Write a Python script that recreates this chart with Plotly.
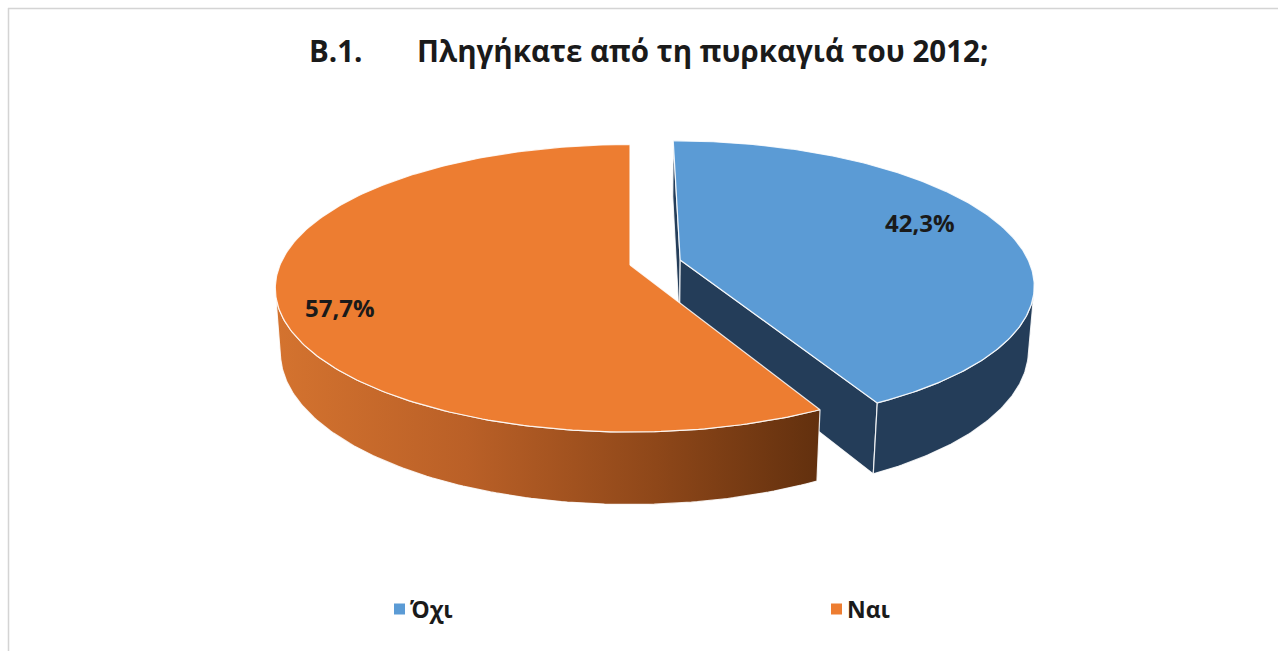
import numpy as np
import plotly.graph_objects as go

# Survey answers: "Were you affected by the 2012 fire?"
categories = ["Όχι", "Ναι"]
values = [42.3, 57.7]
value_labels = ["42,3%", "57,7%"]
top_colors = ["#5B9BD5", "#ED7D31"]
side_colors = ["#243D59", "#9A4E1D"]
explode = [52, 0]

# 3D pie geometry (pixel units of the page)
CX, CY = 630, 265          # screen position of the pie centre
RADIUS = 350
DEPTH = 70
SIN_A = 0.40               # camera elevation
COS_A = float(np.sqrt(1 - SIN_A ** 2))
DIST = 1983                # perspective distance
CAM = np.array([0.0, DIST * SIN_A, -DIST * COS_A])  # camera in world (X, Y, Z)


def project(X, Z, Y):
    X, Z, Y = np.asarray(X, float), np.asarray(Z, float), np.asarray(Y, float)
    v = Z * SIN_A + Y * COS_A
    w = Z * COS_A - Y * SIN_A
    s = DIST / (DIST + w)
    return CX + X * s, CY - v * s


def faces_camera(normal_xz, point):
    nx, nz = normal_xz
    px, py, pz = point
    return nx * (CAM[0] - px) + nz * (CAM[2] - pz) > 1e-6


fig = go.Figure()

total = sum(values)
bounds = np.concatenate([[0], np.cumsum(values)]) / total * 2 * np.pi
slices = []
for i, cat in enumerate(categories):
    a0, a1 = bounds[i], bounds[i + 1]
    mid = (a0 + a1) / 2
    ox, oz = explode[i] * np.sin(mid), explode[i] * np.cos(mid)
    slices.append((i, cat, a0, a1, mid, ox, oz))

edge = dict(color="rgba(255,255,255,0.85)", width=1.2)

for i, cat, a0, a1, mid, ox, oz in slices:
    phi = np.linspace(a0, a1, 240)
    rx = ox + RADIUS * np.sin(phi)
    rz = oz + RADIUS * np.cos(phi)

    # radial cut faces
    for a, normal in ((a0, (-np.cos(a0), np.sin(a0))), (a1, (np.cos(a1), -np.sin(a1)))):
        if faces_camera(normal, (ox, 0.0, oz)):
            ex, ez = ox + RADIUS * np.sin(a), oz + RADIUS * np.cos(a)
            qx = [ox, ex, ex, ox, ox]
            qz = [oz, ez, ez, oz, oz]
            qy = [0, 0, -DEPTH, -DEPTH, 0]
            sx, sy = project(qx, qz, qy)
            fig.add_trace(go.Scatter(x=sx, y=sy, mode="lines", fill="toself",
                                     fillcolor=side_colors[i], line=edge,
                                     hoverinfo="skip", showlegend=False))

    # outer curved wall, only the part turned towards the camera
    vis = np.array([faces_camera((np.sin(p), np.cos(p)), (x, 0.0, z))
                    for p, x, z in zip(phi, rx, rz)])
    if vis.any():
        idx = np.where(vis)[0]
        px_, pz_ = rx[idx], rz[idx]
        tx, ty = project(px_, pz_, np.zeros_like(px_))
        bx, by = project(px_[::-1], pz_[::-1], np.full_like(px_, -DEPTH))
        wx = np.concatenate([tx, bx, tx[:1]])
        wy = np.concatenate([ty, by, ty[:1]])
        if i == 1:
            fill_kw = dict(fillgradient=dict(type="horizontal", colorscale=[
                [0.0, "#D4732F"], [0.35, "#BA6027"], [0.7, "#8E4719"], [1.0, "#62300E"]]))
        else:
            fill_kw = dict(fillcolor=side_colors[i])
        fig.add_trace(go.Scatter(x=wx, y=wy, mode="lines", fill="toself",
                                 line=edge, hoverinfo="skip", showlegend=False,
                                 **fill_kw))

    # top face
    fx = np.concatenate([[ox], rx, [ox]])
    fz = np.concatenate([[oz], rz, [oz]])
    sx, sy = project(fx, fz, np.zeros_like(fx))
    fig.add_trace(go.Scatter(x=sx, y=sy, mode="lines", fill="toself",
                             fillcolor=top_colors[i], line=edge,
                             name=cat, hoverinfo="skip", showlegend=False))

# percentage labels: position along each slice (fraction of its sweep) and radius
label_sweep = [0.45, 0.47]
label_radius = [0.78, 0.84]
for i, cat, a0, a1, mid, ox, oz in slices:
    ang = a0 + label_sweep[i] * (a1 - a0)
    r = label_radius[i] * RADIUS
    lx, ly = project(ox + r * np.sin(ang), oz + r * np.cos(ang), 0.0)
    fig.add_annotation(x=float(lx), y=float(ly), text=f"<b>{value_labels[i]}</b>",
                       showarrow=False, font=dict(size=24, color="#1A1A1A",
                                                  family="Open Sans"))

# title
fig.add_annotation(x=307, y=50, xanchor="left", text="<b>Β.1.</b>", showarrow=False,
                   font=dict(size=29.5, color="#1A1A1A", family="Open Sans"))
fig.add_annotation(x=990, y=50, xanchor="right",
                   text="<b>Πληγήκατε από τη πυρκαγιά του 2012;</b>", showarrow=False,
                   font=dict(size=29.5, color="#1A1A1A", family="Open Sans"))

# legend
legend_x = [399.5, 836.5]
for i, cat in enumerate(categories):
    fig.add_shape(type="rect", x0=legend_x[i] - 5.5, x1=legend_x[i] + 5.5, y0=603.5, y1=614.5,
                  fillcolor=top_colors[i], line=dict(width=0))
    fig.add_annotation(x=legend_x[i] + 8, y=609, xanchor="left", text=f"<b>{cat}</b>",
                       showarrow=False, font=dict(size=23, color="#1A1A1A",
                                                  family="Open Sans"))

# chart-area frame
fig.add_shape(type="line", x0=8, x1=1278, y0=8.5, y1=8.5, line=dict(color="#D4D4D4", width=1.5))
fig.add_shape(type="line", x0=8.5, x1=8.5, y0=8, y1=651, line=dict(color="#D4D4D4", width=1.5))

fig.update_layout(
    width=1278, height=651,
    margin=dict(l=0, r=0, t=0, b=0),
    paper_bgcolor="white", plot_bgcolor="white",
    xaxis=dict(range=[0, 1278], visible=False, fixedrange=True),
    yaxis=dict(range=[651, 0], visible=False, fixedrange=True),
    showlegend=False,
)

fig.write_html("out.html")
